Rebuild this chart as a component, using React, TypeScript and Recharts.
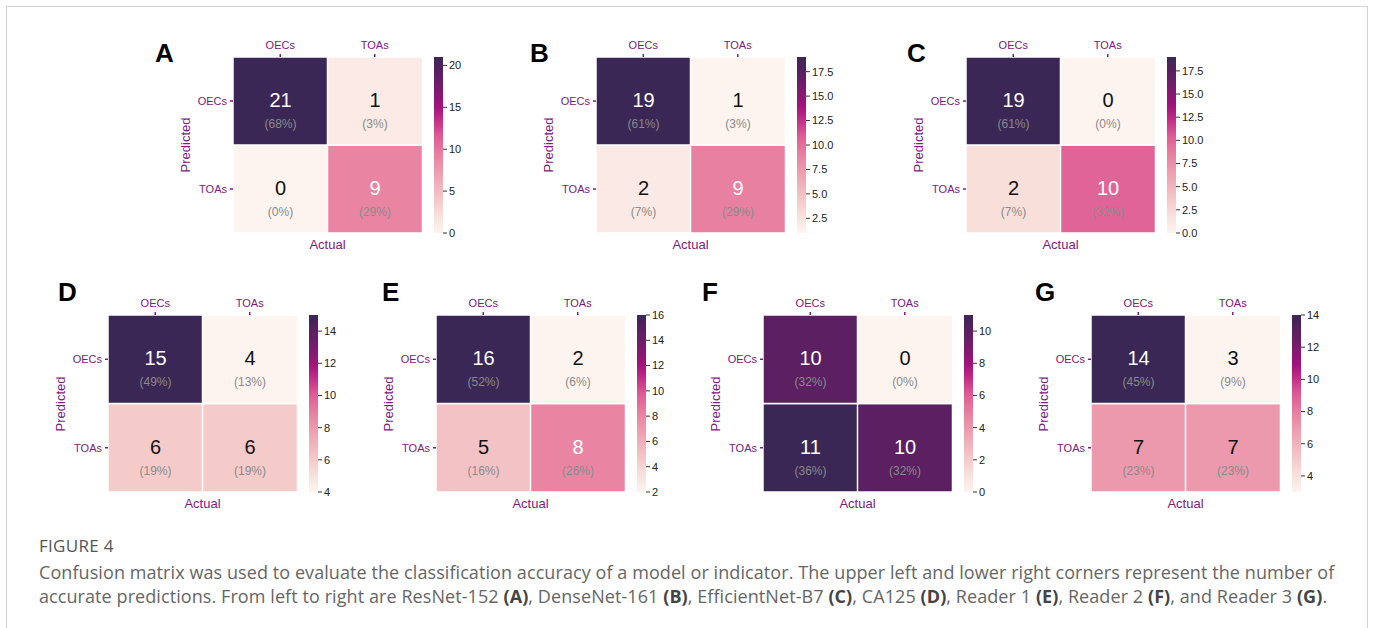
import React from "react";
import { BarChart, Bar, XAxis, YAxis, Cell, LabelList } from "recharts";

const classes = ["OECs", "TOAs"];

// rows = predicted (OECs, TOAs), columns = actual (OECs, TOAs)
const countsA = [[21, 1], [0, 9]];
const countsB = [[19, 1], [2, 9]];
const countsC = [[19, 0], [2, 10]];
const countsD = [[15, 4], [6, 6]];
const countsE = [[16, 2], [5, 8]];
const countsF = [[10, 0], [11, 10]];
const countsG = [[14, 3], [7, 7]];

const pctA = [[68, 3], [0, 29]];
const pctB = [[61, 3], [7, 29]];
const pctC = [[61, 0], [7, 32]];
const pctD = [[49, 13], [19, 19]];
const pctE = [[52, 6], [16, 26]];
const pctF = [[32, 0], [36, 32]];
const pctG = [[45, 9], [23, 23]];

const barTicksA = ["0", "5", "10", "15", "20"];
const barTicksB = ["2.5", "5.0", "7.5", "10.0", "12.5", "15.0", "17.5"];
const barTicksC = ["0.0", "2.5", "5.0", "7.5", "10.0", "12.5", "15.0", "17.5"];
const barTicksD = ["4", "6", "8", "10", "12", "14"];
const barTicksE = ["2", "4", "6", "8", "10", "12", "14", "16"];
const barTicksF = ["0", "2", "4", "6", "8", "10"];
const barTicksG = ["4", "6", "8", "10", "12", "14"];

const letters = ["A", "B", "C", "D", "E", "F", "G"];

const PURPLE = "#7b2080";
const FONT = "'Liberation Sans', Arial, sans-serif";
const YW = 56; // y axis width in heatmap
const XH = 24; // top x axis height
const MT = 2;
const CBW = 9;
const CBPAD = 8;

const CMAP: [number, string][] = [
  [0, "#fdf4ef"],
  [0.1, "#f8e0db"],
  [0.2, "#f4c6c6"],
  [0.35, "#ed9db0"],
  [0.45, "#e87ea0"],
  [0.55, "#df5c95"],
  [0.65, "#c02a85"],
  [0.72, "#a3127b"],
  [0.85, "#6d1d69"],
  [0.93, "#55205f"],
  [1, "#3b2755"],
];

const hex = (c: string) => [1, 3, 5].map((i) => parseInt(c.slice(i, i + 2), 16));

function cmap(t: number) {
  const v = Math.max(0, Math.min(1, t));
  for (let i = 1; i < CMAP.length; i++) {
    const [t1, c1] = CMAP[i];
    const [t0, c0] = CMAP[i - 1];
    if (v <= t1) {
      const f = (v - t0) / (t1 - t0);
      const a = hex(c0);
      const b = hex(c1);
      return `rgb(${a.map((x, k) => Math.round(x + (b[k] - x) * f)).join(",")})`;
    }
  }
  return CMAP[CMAP.length - 1][1];
}

function isDark(t: number) {
  const rgb = cmap(t).match(/\d+/g)!.map(Number);
  const lin = rgb.map((x) => {
    const s = x / 255;
    return s <= 0.03928 ? s / 12.92 : Math.pow((s + 0.055) / 1.055, 2.4);
  });
  return 0.2126 * lin[0] + 0.7152 * lin[1] + 0.0722 * lin[2] < 0.408;
}

interface HeatProps {
  counts: number[][];
  pct: number[][];
  w: number;
  h: number;
}

function Heatmap({ counts, pct, w, h }: HeatProps) {
  const flat = counts.flat();
  const lo = Math.min(...flat);
  const hi = Math.max(...flat);
  const norm = (v: number) => (v - lo) / (hi - lo);
  const data = classes.map((name, j) => ({
    actual: name,
    slotBottom: 1,
    slotTop: 1,
    top: counts[0][j],
    bottom: counts[1][j],
  }));

  const renderLabel = (row: number) => (props: any) => {
    const { x, y, width, height, value, index } = props;
    const cx = Number(x) + Number(width) / 2;
    const cy = Number(y) + Number(height) / 2;
    const dark = isDark(norm(Number(value)));
    return (
      <g key={`${row}-${index}`}>
        <text x={cx} y={cy - 1} dy="0.35em" textAnchor="middle" fontSize={20} fill={dark ? "#fff" : "#111"} fontFamily={FONT}>
          {value}
        </text>
        <text x={cx} y={cy + 23} dy="0.35em" textAnchor="middle" fontSize={12} fill="#8a8a8a" fontFamily={FONT}>
          ({pct[row][index]}%)
        </text>
      </g>
    );
  };

  return (
    <BarChart
      width={YW + w}
      height={MT + XH + h}
      data={data}
      margin={{ top: MT, right: 0, bottom: 0, left: 0 }}
      barCategoryGap={0}
      barGap={0}
    >
      <XAxis
        dataKey="actual"
        orientation="top"
        height={XH}
        axisLine={false}
        interval={0}
        tickSize={3}
        tickMargin={5}
        tickLine={{ stroke: PURPLE, strokeWidth: 1.5 }}
        tick={{ fill: PURPLE, fontSize: 11, fontFamily: FONT }}
      />
      <YAxis
        type="number"
        domain={[0, 2]}
        ticks={[0.5, 1.5]}
        tickFormatter={(v: number) => (v > 1 ? classes[0] : classes[1])}
        width={YW}
        axisLine={false}
        tickSize={3}
        tickMargin={3}
        tickLine={{ stroke: PURPLE, strokeWidth: 1.5 }}
        tick={{ fill: PURPLE, fontSize: 11, fontFamily: FONT }}
      />
      <Bar dataKey="slotBottom" stackId="m" stroke="#fff" strokeWidth={1.5} isAnimationActive={false}>
        {data.map((d) => (
          <Cell key={d.actual} fill={cmap(norm(d.bottom))} />
        ))}
        <LabelList dataKey="bottom" content={renderLabel(1)} />
      </Bar>
      <Bar dataKey="slotTop" stackId="m" stroke="#fff" strokeWidth={1.5} isAnimationActive={false}>
        {data.map((d) => (
          <Cell key={d.actual} fill={cmap(norm(d.top))} />
        ))}
        <LabelList dataKey="top" content={renderLabel(0)} />
      </Bar>
    </BarChart>
  );
}

function ColorBar({ counts, labels, h, id }: { counts: number[][]; labels: string[]; h: number; id: string }) {
  const flat = counts.flat();
  const lo = Math.min(...flat);
  const hi = Math.max(...flat);
  const data = [{ k: "cb", span: [lo, hi] }];
  return (
    <BarChart
      width={CBW + 34}
      height={h + 2 * CBPAD}
      data={data}
      margin={{ top: CBPAD, right: 0, bottom: CBPAD, left: 0 }}
      barCategoryGap={0}
    >
      <defs>
        <linearGradient id={id} x1="0" y1="0" x2="0" y2="1">
          {[...CMAP].reverse().map(([t, c]) => (
            <stop key={t} offset={1 - t} stopColor={c} />
          ))}
        </linearGradient>
      </defs>
      <XAxis dataKey="k" hide />
      <YAxis
        type="number"
        orientation="right"
        domain={[lo, hi]}
        allowDataOverflow
        ticks={labels.map(Number)}
        tickFormatter={(v: number) => labels.find((l) => Number(l) === v) ?? String(v)}
        width={34}
        axisLine={false}
        tickSize={4}
        tickMargin={2}
        tickLine={{ stroke: "#333" }}
        tick={{ fill: "#222", fontSize: 11, fontFamily: FONT }}
      />
      <Bar dataKey="span" fill={`url(#${id})`} isAnimationActive={false} />
    </BarChart>
  );
}

const panels = [
  { counts: countsA, pct: pctA, ticks: barTicksA, x: 233, y: 57, h: 176, lx: 155, ly: 40 },
  { counts: countsB, pct: pctB, ticks: barTicksB, x: 596, y: 57, h: 176, lx: 530, ly: 40 },
  { counts: countsC, pct: pctC, ticks: barTicksC, x: 966, y: 57, h: 176, lx: 907, ly: 40 },
  { counts: countsD, pct: pctD, ticks: barTicksD, x: 108, y: 315, h: 177, lx: 58, ly: 279 },
  { counts: countsE, pct: pctE, ticks: barTicksE, x: 436, y: 315, h: 177, lx: 382, ly: 279 },
  { counts: countsF, pct: pctF, ticks: barTicksF, x: 763, y: 315, h: 177, lx: 702, ly: 279 },
  { counts: countsG, pct: pctG, ticks: barTicksG, x: 1091, y: 315, h: 177, lx: 1035, ly: 279 },
];

const W = 189;

const abs = (left: number, top: number): React.CSSProperties => ({ position: "absolute", left, top });

export default function App() {
  const capFont = "'Open Sans', Lato, sans-serif";
  const b = (s: string) => <span style={{ fontWeight: 700, color: "#444" }}>{s}</span>;
  const capLine: React.CSSProperties = {
    fontFamily: capFont,
    fontSize: 18,
    lineHeight: "24px",
    color: "#666",
    whiteSpace: "nowrap",
    letterSpacing: 0.08,
  };
  return (
    <div style={{ position: "absolute", left: 0, top: 0, width: 1373, height: 628, overflow: "hidden", background: "#fff" }}>
      <div style={{ position: "absolute", left: 6, top: 6, width: 1360, height: 700, border: "1px solid #d4d4d4" }} />
      {panels.map((p, i) => (
        <React.Fragment key={letters[i]}>
          <div style={{ ...abs(p.lx, p.ly), fontFamily: FONT, fontWeight: 700, fontSize: 26, lineHeight: "26px", color: "#000" }}>
            {letters[i]}
          </div>
          <div style={abs(p.x - YW, p.y - XH - MT)}>
            <Heatmap counts={p.counts} pct={p.pct} w={W} h={p.h} />
          </div>
          <div style={abs(p.x + W + 12, p.y - CBPAD)}>
            <ColorBar counts={p.counts} labels={p.ticks} h={p.h} id={`cb${letters[i]}`} />
          </div>
          <div
            style={{
              ...abs(p.x + W / 2 - 50, p.y + p.h + 4),
              width: 100,
              textAlign: "center",
              fontFamily: FONT,
              fontSize: 13,
              lineHeight: "16px",
              color: PURPLE,
            }}
          >
            Actual
          </div>
          <div
            style={{
              ...abs(p.x - 47 - 50, p.y + p.h / 2 - 8),
              width: 100,
              textAlign: "center",
              fontFamily: FONT,
              fontSize: 13,
              lineHeight: "16px",
              color: PURPLE,
              transform: "rotate(-90deg)",
            }}
          >
            Predicted
          </div>
        </React.Fragment>
      ))}
      <div style={{ ...abs(39, 536), fontFamily: capFont, fontSize: 17, lineHeight: "20px", color: "#555", letterSpacing: 0.3 }}>
        FIGURE 4
      </div>
      <div style={{ ...abs(39, 560), ...capLine }}>
        Confusion matrix was used to evaluate the classification accuracy of a model or indicator. The upper left and lower right corners represent the number of
      </div>
      <div style={{ ...abs(39, 584), ...capLine }}>
        accurate predictions. From left to right are ResNet-152 {b("(A)")}, DenseNet-161 {b("(B)")}, EfficientNet-B7 {b("(C)")}, CA125 {b("(D)")},
        Reader 1 {b("(E)")}, Reader 2 {b("(F)")}, and Reader 3 {b("(G)")}.
      </div>
    </div>
  );
}
